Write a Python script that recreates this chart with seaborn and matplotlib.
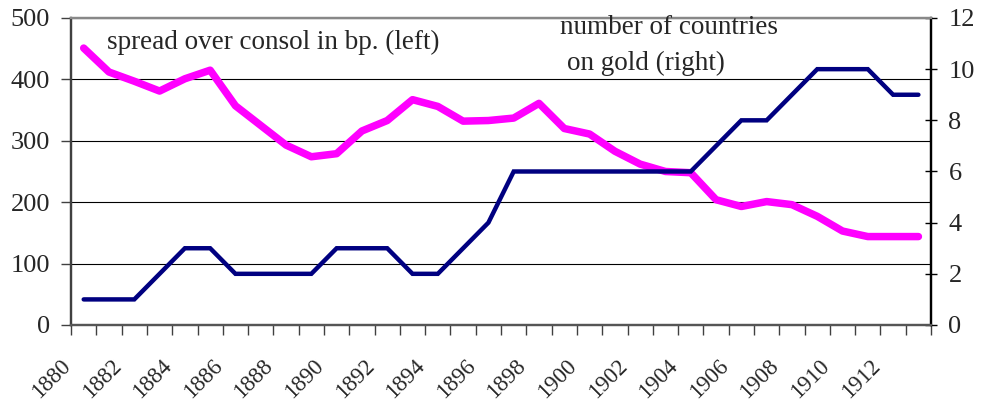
import numpy as np
import matplotlib
matplotlib.use('Agg')
import matplotlib.pyplot as plt
import seaborn as sns

years = list(range(1880, 1914))
spread_bp = [451, 412, 397, 381, 401, 415, 357, 325, 293, 274,
             279, 316, 333, 367, 356, 332, 333, 337, 361, 320,
             311, 283, 262, 250, 248, 204, 193, 201, 196, 177,
             153, 144, 144, 144]
countries_on_gold = [1, 1, 1, 2, 3, 3, 2, 2, 2, 2,
                     3, 3, 3, 2, 2, 3, 4, 6, 6, 6,
                     6, 6, 6, 6, 6, 7, 8, 8, 9, 10,
                     10, 10, 9, 9]
left_ticks = [0, 100, 200, 300, 400, 500]
right_ticks = [0, 2, 4, 6, 8, 10, 12]


def main():
    sns.set_style('white')
    plt.rcParams['font.family'] = ['Liberation Serif', 'DejaVu Serif']

    idx = np.arange(len(years))
    fig = plt.figure(figsize=(9.84, 4.09), dpi=100)
    ax = fig.add_axes([0.0722, 0.2054, 0.8740, 0.7506])
    ax2 = ax.twinx()

    sns.lineplot(x=idx, y=spread_bp, ax=ax, color='#FF00FF', linewidth=5.4,
                 solid_capstyle='round', solid_joinstyle='round')
    sns.lineplot(x=idx, y=countries_on_gold, ax=ax2, color='#000080', linewidth=3.2,
                 solid_joinstyle='miter')

    ax.set_xlim(-0.5, len(years) - 0.5)
    ax.set_ylim(0, 500)
    ax2.set_ylim(0, 12)
    ax.set_yticks(left_ticks)
    ax2.set_yticks(right_ticks)
    ax.grid(axis='y', color='black', linewidth=0.8)
    ax.set_axisbelow(True)

    # tick marks sit on the boundaries between categories
    ax.set_xticks(np.arange(-0.5, len(years)), minor=False)
    ax.set_xticklabels([])
    ax.set_xticks(idx[::2] - 0.35, minor=True)
    ax.set_xticklabels([str(y) for y in years[::2]], minor=True,
                       rotation=45, ha='right', va='top')
    ax.tick_params(axis='x', which='major', direction='out', length=7,
                   width=1, color='#404040', bottom=True)
    ax.tick_params(axis='x', which='minor', length=0, pad=22, labelsize=16.5)
    ax.tick_params(axis='y', direction='out', length=7, width=1,
                   color='#404040', left=True, labelsize=19, pad=8)
    ax2.tick_params(axis='y', direction='inout', length=9, width=1,
                    color='black', right=True, labelsize=19, pad=8)

    for a in (ax, ax2):
        a.set_xlabel('')
        a.set_ylabel('')
        for s in a.spines.values():
            s.set_visible(True)
            s.set_linewidth(1.6)
        a.spines['left'].set_color('#404040')
        a.spines['bottom'].set_color('#555555')
        a.spines['top'].set_color('#888888')
        a.spines['right'].set_color('black')

    fig.text(107 / 984, 1 - 42 / 409, 'spread over consol in bp. (left)',
             fontsize=19.5, va='center', ha='left')
    fig.text(560 / 984, 1 - 28 / 409, 'number of countries', fontsize=19.5,
             va='center', ha='left')
    fig.text(567 / 984, 1 - 63 / 409, 'on gold (right)', fontsize=19.5,
             va='center', ha='left')

    fig.savefig('out.png', dpi=100)
    plt.close(fig)


if __name__ == '__main__':
    main()
